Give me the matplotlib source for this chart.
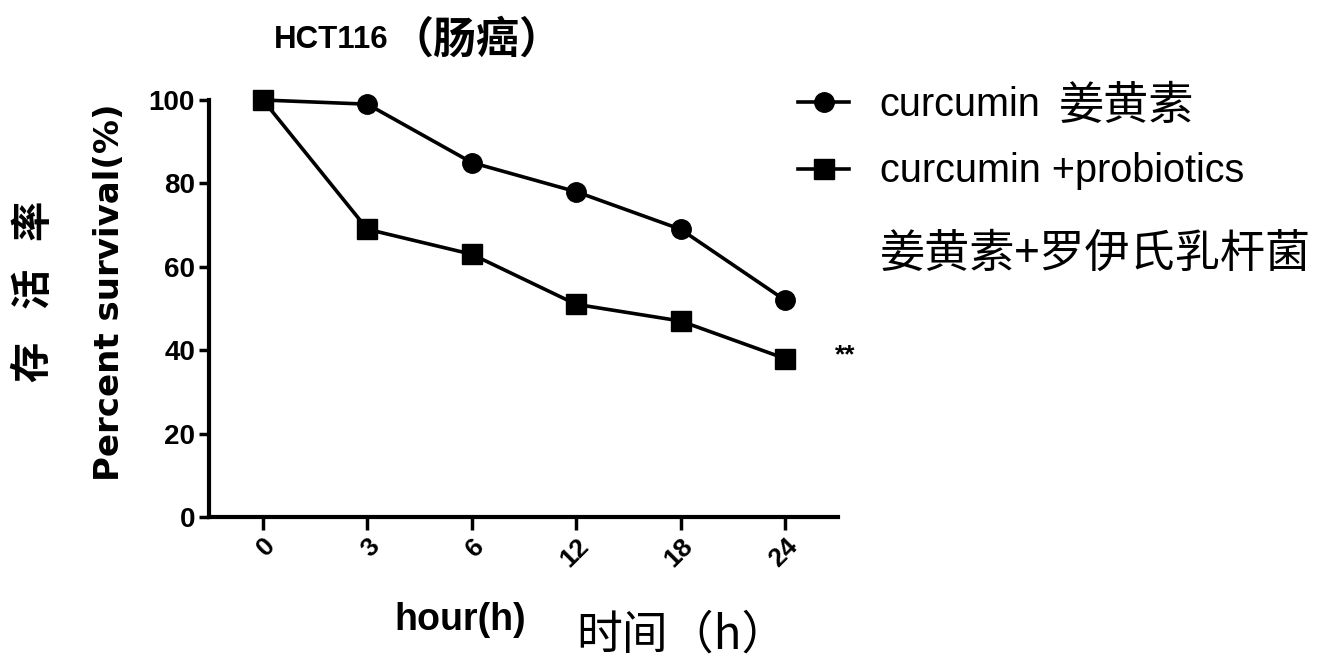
import matplotlib
matplotlib.use("Agg")
import matplotlib.pyplot as plt

# data
hours = ["0", "3", "6", "12", "18", "24"]
curcumin = [100, 99, 85, 78, 69, 52]
curcumin_probiotics = [100, 69, 63, 51, 47, 38]
yticks = [0, 20, 40, 60, 80, 100]

W, H = 1326, 668

fig = plt.figure(figsize=(W / 100, H / 100), dpi=100)
ax = fig.add_axes([209 / W, 1 - 517 / H, (838 - 209) / W, (517 - 100) / H])

x = range(len(hours))
ax.plot(x, curcumin, color="black", lw=2.6, marker="o", ms=14,
        label="curcumin", clip_on=False, zorder=3)
ax.plot(x, curcumin_probiotics, color="black", lw=2.6, marker="s", ms=14,
        label="curcumin +probiotics", clip_on=False, zorder=3)

# category spacing ~104.4 px
ax.set_xlim(-(263 - 209) / 104.4, 5 + (838 - 785) / 104.4)
ax.set_ylim(0, 100)
ax.set_xticks(list(x))
ax.set_xticklabels(hours, rotation=45, ha="right", rotation_mode="anchor",
                   fontsize=19, fontweight="bold", family="Liberation Sans")
ax.set_yticks(yticks)
ax.set_yticklabels([str(v) for v in yticks], fontsize=20, fontweight="bold",
                   family="Liberation Sans")
for s in ["top", "right"]:
    ax.spines[s].set_visible(False)
for s in ["left", "bottom"]:
    ax.spines[s].set_linewidth(3)
ax.tick_params(axis="y", width=2.5, length=7, pad=3)
ax.tick_params(axis="x", width=2.5, length=9, pad=3)

# significance mark
ax.text(5.48, 38.8, "**", fontsize=19, fontweight="bold",
        ha="left", va="center", family="Liberation Sans")

# title
fig.text(388 / W, 1 - 40 / H, "HCT116", fontsize=22.5, fontweight="bold",
         ha="right", va="center", family="Liberation Sans")
fig.text(390 / W, 1 - 40 / H, "（肠癌）", fontsize=31, fontweight="bold",
         ha="left", va="center", family="Noto Sans CJK SC")

# y labels
fig.text(110 / W, 1 - 292 / H, "Percent survival(%)", fontsize=24.5,
         fontweight="bold", rotation=90, ha="center", va="center",
         family="DejaVu Sans")
for ch, yc in zip("存活率", [362, 288, 220]):
    fig.text(33 / W, 1 - yc / H, ch, fontsize=29, fontweight="bold",
             rotation=90, ha="center", va="center", family="Noto Sans CJK SC")

# x labels
fig.text(460 / W, 1 - 620 / H, "hour(h)", fontsize=27, fontweight="bold",
         ha="center", va="center", family="Liberation Sans")
fig.text(682 / W, 1 - 635 / H, "时间（h）", fontsize=33,
         ha="center", va="center", family="Noto Sans CJK SC")

# legend
ax.legend(loc="upper left", bbox_to_anchor=(798 / W, 1 - 86 / H),
          bbox_transform=fig.transFigure, frameon=False, borderpad=0,
          borderaxespad=0, prop={"family": "Liberation Sans", "size": 28.5},
          handlelength=1.3, handletextpad=0.76, labelspacing=0.72,
          markerscale=1.0)
fig.text(1059 / W, 1 - 106 / H, "姜黄素", fontsize=32.5,
         ha="left", va="center", family="Noto Sans CJK SC")
fig.text(880 / W, 1 - 254 / H, "姜黄素+罗伊氏乳杆菌", fontsize=32.5,
         ha="left", va="center", family="Noto Sans CJK SC")

fig.savefig("out.png", dpi=100)
